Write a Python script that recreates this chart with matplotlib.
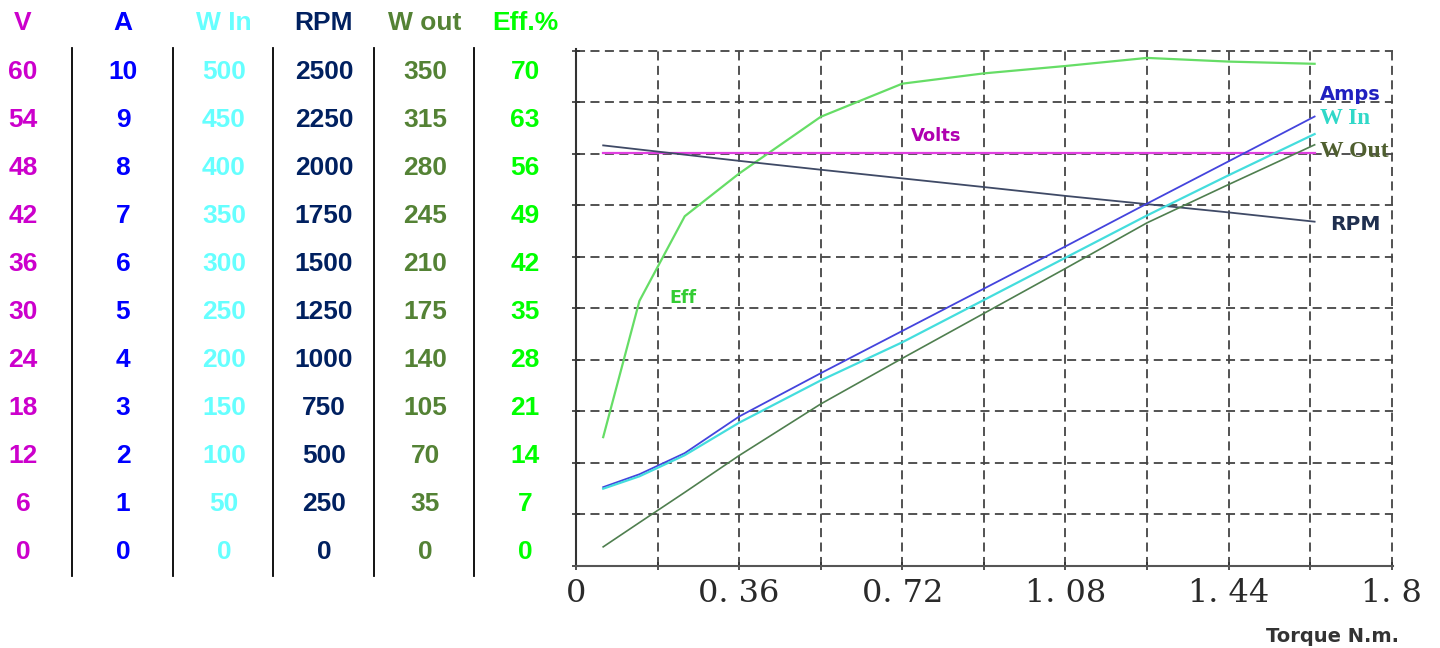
import matplotlib
matplotlib.use("Agg")
import matplotlib.pyplot as plt
from matplotlib.lines import Line2D

# --- scale table (left) ---
col_titles = ["V", "A", "W In", "RPM", "W out", "Eff.%"]
col_colors = ["#CC00CC", "#0000FF", "#66FFFF", "#002060", "#548235", "#00FF00"]
volt_scale = [60, 54, 48, 42, 36, 30, 24, 18, 12, 6, 0]
amp_scale = [10, 9, 8, 7, 6, 5, 4, 3, 2, 1, 0]
win_scale = [500, 450, 400, 350, 300, 250, 200, 150, 100, 50, 0]
rpm_scale = [2500, 2250, 2000, 1750, 1500, 1250, 1000, 750, 500, 250, 0]
wout_scale = [350, 315, 280, 245, 210, 175, 140, 105, 70, 35, 0]
eff_scale = [70, 63, 56, 49, 42, 35, 28, 21, 14, 7, 0]

# --- measured curves ---
torque = [0.06, 0.14, 0.24, 0.36, 0.54, 0.72, 0.90, 1.08, 1.26, 1.44, 1.63]
volts = [48.1, 48.1, 48.1, 48.1, 48.1, 48.1, 48.1, 48.1, 48.1, 48.1, 48.1]
amps = [1.53, 1.78, 2.19, 2.90, 3.74, 4.56, 5.38, 6.20, 7.03, 7.85, 8.72]
w_in = [75, 87, 107.5, 139, 180, 217, 258, 299, 340, 379, 419]
rpm = [2040, 2020, 1995, 1965, 1922, 1880, 1838, 1795, 1755, 1715, 1670]
w_out = [13, 29.5, 50, 75, 110, 141, 171.5, 202, 233, 259, 286]
eff = [17.5, 36.0, 47.5, 53.3, 61.0, 65.5, 66.9, 67.9, 69.0, 68.5, 68.2]

x_ticks = [0, 0.18, 0.36, 0.54, 0.72, 0.90, 1.08, 1.26, 1.44, 1.62, 1.8]
x_labels = ["0", "", "0. 36", "", "0. 72", "", "1. 08", "", "1. 44", "", "1. 8"]

W, H = 1440, 648
fig = plt.figure(figsize=(W / 100, H / 100), dpi=100)


def px(x, y):
    return x / W, 1 - y / H


# table
col_x = [23, 123, 224, 324, 425, 525]
columns = [volt_scale, amp_scale, win_scale, rpm_scale, wout_scale, eff_scale]
for cx, title, color, vals in zip(col_x, col_titles, col_colors, columns):
    fig.text(*px(cx, 23), title, color=color, fontsize=19, fontweight="bold",
             family="Liberation Sans", ha="center", va="center")
    for i, v in enumerate(vals):
        fig.text(*px(cx, 72 + 48 * i), str(v), color=color, fontsize=19,
                 fontweight="bold", family="Liberation Sans",
                 ha="center", va="center")
for sx in [72, 173, 273, 374, 474]:
    fig.add_artist(Line2D([sx / W, sx / W], [1 - 48 / H, 1 - 576 / H],
                          color="black", lw=1.3))

# chart
ax = fig.add_axes([576 / W, 82 / H, 817 / W, 517 / H])
ax.set_xlim(0, 1.803)
ax.set_ylim(0, 10.03)

ax.plot(torque, [v / 7 for v in eff], color="#66DD66", lw=1.6)
ax.plot(torque, [v / 6 for v in volts], color="#E040E0", lw=1.6)
ax.plot(torque, [v / 250 for v in rpm], color="#3F4A66", lw=1.3)
ax.plot(torque, amps, color="#4444DD", lw=1.3)
ax.plot(torque, [v / 50 for v in w_in], color="#44DDDD", lw=1.6)
ax.plot(torque, [v / 35 for v in w_out], color="#4F7F4F", lw=1.2)

ax.text(1.641, 9.15, "Amps", color="#2020C0", fontsize=14, fontweight="bold",
        family="DejaVu Sans", va="center")
ax.text(1.641, 8.68, "W In", color="#30D8C8", fontsize=16.5, fontweight="bold",
        family="Liberation Serif", va="center")
ax.text(1.641, 8.05, "W Out", color="#4F5F2F", fontsize=17, fontweight="bold",
        family="Liberation Serif", va="center")
ax.text(1.664, 6.62, "RPM", color="#1F2F4F", fontsize=14.5, fontweight="bold",
        family="DejaVu Sans", va="center")
ax.text(0.795, 8.35, "Volts", color="#B000B0", fontsize=13, fontweight="bold",
        family="DejaVu Sans", ha="center", va="center")
ax.text(0.237, 5.2, "Eff", color="#33CC33", fontsize=12.5, fontweight="bold",
        family="DejaVu Sans", ha="center", va="center")

ax.set_xticks(x_ticks)
ax.set_xticklabels(x_labels, family="DejaVu Serif", fontsize=23, color="#2A2A2A")
ax.set_yticks(range(11))
ax.set_yticklabels([])
ax.tick_params(axis="both", direction="inout", length=6, width=1.2,
               color="#333333", pad=6)
ax.grid(True, color="#444444", lw=1.3, linestyle=(0, (5, 3)))
for side in ["top", "right"]:
    ax.spines[side].set_visible(False)
ax.spines["left"].set_color("#333333")
ax.spines["bottom"].set_color("#555555")
ax.spines["left"].set_linewidth(1.5)
ax.spines["bottom"].set_linewidth(1.5)

fig.text(*px(1333, 636), "Torque N.m.", color="#333333", fontsize=14,
         fontweight="bold", family="DejaVu Sans", ha="center", va="center")

plt.savefig("out.png", dpi=100)
